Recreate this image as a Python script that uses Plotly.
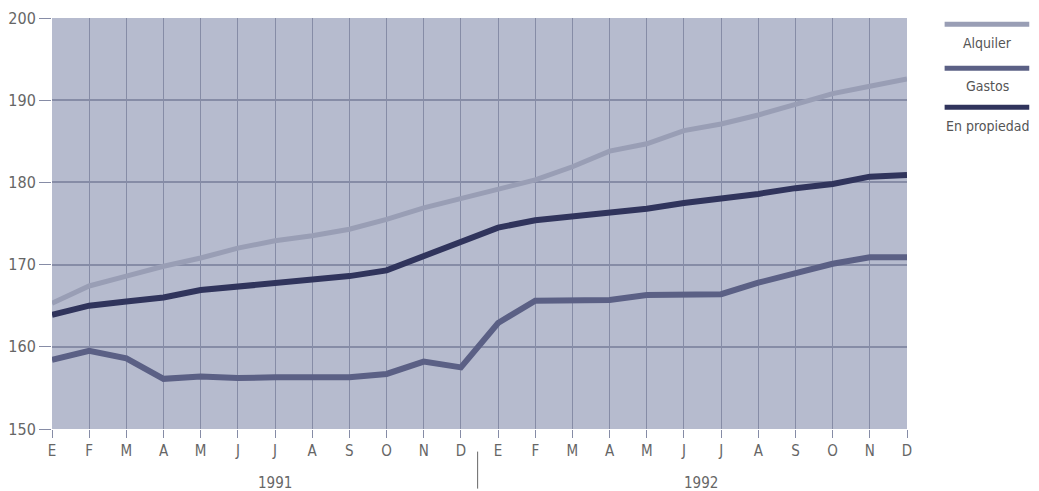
import plotly.graph_objects as go

months = ["E", "F", "M", "A", "M", "J", "J", "A", "S", "O", "N", "D"] * 2
years = ["1991", "1992"]
alquiler = [165.3, 167.4, 168.6, 169.8, 170.8, 172.0, 172.9, 173.5, 174.3, 175.5, 176.9, 178.0,
            179.1, 180.3, 181.9, 183.8, 184.7, 186.3, 187.1, 188.2, 189.5, 190.8, 191.7, 192.6]
gastos = [158.4, 159.5, 158.6, 156.1, 156.4, 156.2, 156.3, 156.3, 156.3, 156.7, 158.2, 157.5,
          162.9, 165.6, 165.6, 165.7, 166.3, 166.4, 166.4, 167.8, 169.0, 170.1, 170.9, 170.9]
propiedad = [163.9, 165.0, 165.5, 166.0, 166.9, 167.3, 167.8, 168.1, 168.6, 169.3, 171.0, 172.7,
             174.5, 175.4, 175.9, 176.3, 176.8, 177.5, 178.0, 178.6, 179.3, 179.8, 180.7, 180.9]
series_names = ["Alquiler", "Gastos", "En propiedad"]
colors = ["#999eb5", "#5b6085", "#30345c"]
widths = [5, 6, 6]

x = list(range(len(months)))
FONT = "Liberation Sans Narrow, DejaVu Sans Condensed, Roboto, sans-serif"

fig = go.Figure()
for name, vals, c, w in zip(series_names, [alquiler, gastos, propiedad], colors, widths):
    fig.add_trace(go.Scatter(x=x, y=vals, mode="lines", name=name,
                             line=dict(color=c, width=w), showlegend=False))

fig.update_layout(
    width=1031, height=483,
    margin=dict(l=44, r=132, t=10, b=62, autoexpand=False),
    paper_bgcolor="white",
    plot_bgcolor="#b6bbce",
    font=dict(family=FONT, color="#666666"),
    xaxis=dict(range=[0, 23], tickvals=x, ticktext=months, showgrid=True,
               gridcolor="#868ca6", gridwidth=1, ticks="outside", ticklen=8,
               tickcolor="#868ca6", tickfont=dict(size=15, color="#666666"),
               zeroline=False, showline=False, fixedrange=True, automargin=False),
    yaxis=dict(range=[150, 200], tickvals=[150, 160, 170, 180, 190, 200],
               showgrid=True, gridcolor="#868ca6", gridwidth=1.5,
               ticks="outside", ticklen=12, tickcolor="#868ca6",
               tickfont=dict(size=16, color="#666666"),
               zeroline=False, showline=False, fixedrange=True, automargin=False),
)

# year labels
fig.add_annotation(x=6, y=-0.157, xref="x", yref="paper", text=years[0], showarrow=False,
                   font=dict(size=15, color="#666666", family=FONT))
fig.add_annotation(x=17.46, y=-0.157, xref="x", yref="paper", text=years[1], showarrow=False,
                   font=dict(size=15, color="#666666", family=FONT))
fig.add_shape(type="line", x0=11.45, x1=11.45, xref="x", y0=-0.055, y1=-0.145, yref="paper",
              line=dict(color="#666666", width=1))

# legend (line above label)
leg_line_y = [0.985, 0.878, 0.783]
leg_text_y = [0.939, 0.835, 0.737]
for name, c, ly, ty in zip(series_names, colors, leg_line_y, leg_text_y):
    fig.add_shape(type="line", x0=1.044, x1=1.143, xref="paper", y0=ly, y1=ly, yref="paper",
                  line=dict(color=c, width=5))
    fig.add_annotation(x=1.0936, y=ty, xref="paper", yref="paper", text=name,
                       showarrow=False, yanchor="middle", xanchor="center",
                       font=dict(size=14, color="#555555", family=FONT))

fig.write_html("out.html")
